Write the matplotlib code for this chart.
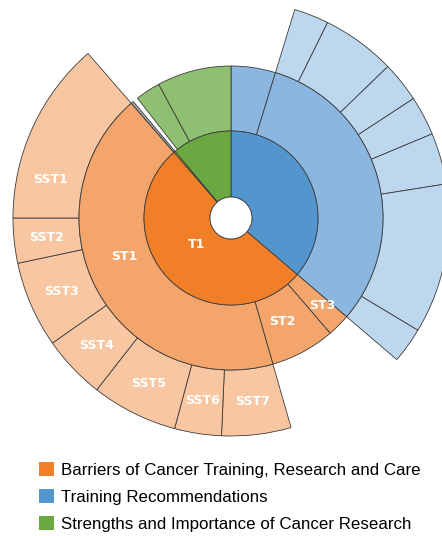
import matplotlib
matplotlib.use('Agg')
import matplotlib.pyplot as plt
from matplotlib.patches import Patch, Circle
import numpy as np

# ring values (share of the circle), clockwise from 12 o'clock
# group codes: B=blue, O=orange, Y=yellow/grey sliver, G=green, '-'=empty
level1_vals = [130.5, 188.5, 1.0, 40.0]
level1_groups = ['B', 'O', 'Y', 'G']
level1_labels = ['', 'T1', '', '']

level2_vals = [17, 113.5, 8.8, 24.7, 155, 1, 2, 9.6, 28.4]
level2_groups = ['B', 'B', 'O', 'O', 'O', 'Y', '-', 'G', 'G']
level2_labels = ['', '', 'ST3', 'ST2', 'ST1', '', '', '', '']

level3_vals = [17, 9.3, 19.7, 10.8, 10.5, 13.7, 40, 9.5, 33.5,
               18.5, 12.5, 23, 17, 23, 12, 49, 41]
level3_groups = ['-', 'B', 'B', 'B', 'B', 'B', 'B', 'B', '-',
                 'O', 'O', 'O', 'O', 'O', 'O', 'O', '-']
level3_labels = ['', '', '', '', '', '', '', '', '',
                 'SST7', 'SST6', 'SST5', 'SST4', 'SST3', 'SST2', 'SST1', '']

legend_labels = ['Barriers of Cancer Training, Research and Care',
                 'Training Recommendations',
                 'Strengths and Importance of Cancer Research']

colors = {
    1: {'B': '#5396CE', 'O': '#F07F28', 'Y': '#FFC000', 'G': '#6AA842'},
    2: {'B': '#8AB6E0', 'O': '#F4A56C', 'Y': '#A6A6A6', 'G': '#8FC071'},
    3: {'B': '#BDD7EE', 'O': '#F8C7A2', 'Y': '#A6A6A6', 'G': '#C5E0B4'},
}
legend_colors = ['#F07F28', '#5396CE', '#6AA842']

R_HOLE, R1, R2, R3 = 21 / 218, 87 / 218, 152 / 218, 1.0
EDGE = '#3c3c3c'

# small label nudges: (angle offset deg, radius)
nudge = {'T1': (-8, 0.2), 'ST1': (-8.5, 0.52), 'ST2': (-2, 0.53),
         'ST3': (1, 0.58), 'SST1': (12.5, 0.845)}

W, H = 442, 536
fig = plt.figure(figsize=(W / 100, H / 100), dpi=100)
ax = fig.add_axes([0, 0, 1, 1])

cx, cy = 231, 218


def ring(vals, groups, labels, lvl, r_out, r_in):
    cols = [colors[lvl].get(g, 'white') for g in groups]
    wedges, _ = ax.pie(vals, radius=r_out, colors=cols, startangle=90,
                       counterclock=False,
                       wedgeprops=dict(width=r_out - r_in, edgecolor=EDGE,
                                       linewidth=0.6))
    for w, g, lab in zip(wedges, groups, labels):
        if g == '-':
            w.set_visible(False)
            continue
        if lab:
            mid = (w.theta1 + w.theta2) / 2
            r = (r_out + r_in) / 2
            if lab in nudge:
                mid += nudge[lab][0]
                r = nudge[lab][1]
            a = np.deg2rad(mid)
            ax.text(r * np.cos(a), r * np.sin(a), lab, color='white',
                    fontsize=9, fontweight='bold', ha='center', va='center',
                    family='DejaVu Sans')
    return wedges


ring(level3_vals, level3_groups, level3_labels, 3, R3, R2)
ring(level2_vals, level2_groups, level2_labels, 2, R2, R1)
ring(level1_vals, level1_groups, level1_labels, 1, R1, R_HOLE)
ax.add_patch(Circle((0, 0), R_HOLE, facecolor='white', edgecolor=EDGE, lw=0.6))

s = 218.0
ax.set_xlim(-cx / s, (W - cx) / s)
ax.set_ylim(-(H - cy) / s, cy / s)
ax.set_aspect('auto')
ax.axis('off')

handles = [Patch(facecolor=c, edgecolor='none') for c in legend_colors]
fig.legend(handles, legend_labels, loc='upper left',
           bbox_to_anchor=(0.088, 0.138), frameon=False,
           prop={'family': 'Liberation Sans', 'size': 12.2},
           handlelength=0.88, handleheight=0.88, handletextpad=0.4,
           labelspacing=0.66, borderpad=0, borderaxespad=0)

fig.savefig('out.png', dpi=100)
